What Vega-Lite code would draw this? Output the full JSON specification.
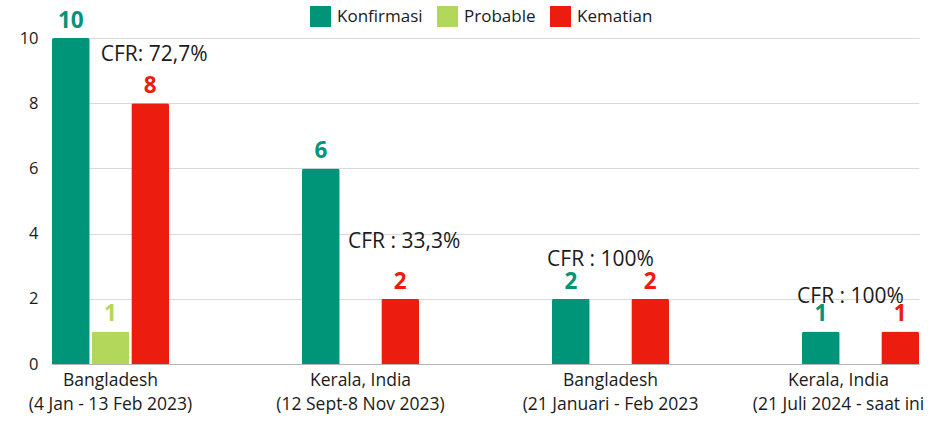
{
  "$schema": "https://vega.github.io/schema/vega-lite/v6.json",
  "width": 867,
  "height": 326,
  "autosize": {"type": "none"},
  "padding": {"left": 52, "top": 38, "right": 23, "bottom": 57},
  "background": "white",
  "config": {"view": {"stroke": null}, "font": "Open Sans"},
  "datasets": {
    "bars": [
      {"Periode": "Bangladesh|(4 Jan - 13 Feb 2023)", "Seri": "Konfirmasi", "Nilai": 10},
      {"Periode": "Bangladesh|(4 Jan - 13 Feb 2023)", "Seri": "Probable", "Nilai": 1},
      {"Periode": "Bangladesh|(4 Jan - 13 Feb 2023)", "Seri": "Kematian", "Nilai": 8},
      {"Periode": "Kerala, India|(12 Sept-8 Nov 2023)", "Seri": "Konfirmasi", "Nilai": 6},
      {"Periode": "Kerala, India|(12 Sept-8 Nov 2023)", "Seri": "Kematian", "Nilai": 2},
      {"Periode": "Bangladesh|(21 Januari - Feb 2023", "Seri": "Konfirmasi", "Nilai": 2},
      {"Periode": "Bangladesh|(21 Januari - Feb 2023", "Seri": "Kematian", "Nilai": 2},
      {"Periode": "Kerala, India|(21 Juli 2024 - saat ini", "Seri": "Konfirmasi", "Nilai": 1},
      {"Periode": "Kerala, India|(21 Juli 2024 - saat ini", "Seri": "Kematian", "Nilai": 1}
    ],
    "cfr": [
      {"Periode": "Bangladesh|(4 Jan - 13 Feb 2023)", "Seri": "Kematian", "Posisi": 9.48, "Teks": "CFR: 72,7%"},
      {"Periode": "Kerala, India|(12 Sept-8 Nov 2023)", "Seri": "Kematian", "Posisi": 3.74, "Teks": "CFR : 33,3%"},
      {"Periode": "Bangladesh|(21 Januari - Feb 2023", "Seri": "Probable", "Posisi": 3.19, "Teks": "CFR : 100%"},
      {"Periode": "Kerala, India|(21 Juli 2024 - saat ini", "Seri": "Probable", "Posisi": 2.05, "Teks": "CFR : 100%"}
    ]
  },
  "encoding": {
    "x": {
      "field": "Periode", "type": "nominal", "sort": null,
      "scale": {"paddingInner": 0.532, "paddingOuter": 0},
      "axis": {
        "title": null, "labelAngle": 0, "labelExpr": "split(datum.label, '|')",
        "labelFontSize": 17.5, "labelColor": "#1a1a1a", "labelPadding": 7,
        "labelLineHeight": 24, "labelLimit": 300, "ticks": false,
        "labelOffset": {"condition": {"test": "indexof(datum.value, 'saat') >= 0", "value": -22}, "value": 0},
        "domainColor": "#b5b5b5", "grid": false
      }
    },
    "xOffset": {
      "field": "Seri", "type": "nominal",
      "scale": {"domain": ["Konfirmasi", "Probable", "Kematian"], "paddingInner": 0.05, "paddingOuter": 0}
    }
  },
  "layer": [
    {
      "data": {"name": "bars"},
      "mark": {"type": "bar", "cornerRadiusTopLeft": 2, "cornerRadiusTopRight": 2},
      "encoding": {
        "y": {
          "field": "Nilai", "type": "quantitative",
          "scale": {"domain": [0, 10], "nice": false},
          "axis": {
            "title": null, "values": [0, 2, 4, 6, 8, 10], "domain": false, "ticks": false,
            "gridColor": "#d9d9d9", "labelFontSize": 16.5, "labelPadding": 14, "labelColor": "#1a1a1a"
          }
        },
        "color": {
          "field": "Seri", "type": "nominal",
          "scale": {"domain": ["Konfirmasi", "Probable", "Kematian"], "range": ["#009579", "#b3d75a", "#ec1c0f"]},
          "legend": {
            "title": null, "orient": "none", "direction": "horizontal",
            "legendX": 258, "legendY": -32, "symbolType": "square", "symbolSize": 441,
            "symbolStrokeWidth": 0, "labelFontSize": 17, "labelColor": "#1a1a1a",
            "labelOffset": 6, "columnPadding": 14
          }
        }
      }
    },
    {
      "data": {"name": "bars"},
      "mark": {"type": "text", "fontSize": 22.5, "fontWeight": "bold", "baseline": "alphabetic", "dy": -10},
      "encoding": {
        "y": {"field": "Nilai", "type": "quantitative"},
        "text": {"field": "Nilai", "type": "quantitative"},
        "color": {"field": "Seri", "type": "nominal"}
      }
    },
    {
      "data": {"name": "cfr"},
      "transform": [{"filter": "datum.Seri == 'Kematian'"}],
      "mark": {"type": "text", "fontSize": 21, "baseline": "middle", "color": "#1a1a1a", "dx": 4},
      "encoding": {
        "y": {"field": "Posisi", "type": "quantitative"},
        "text": {"field": "Teks", "type": "nominal"}
      }
    },
    {
      "data": {"name": "cfr"},
      "transform": [{"filter": "datum.Seri == 'Probable'"}],
      "mark": {"type": "text", "fontSize": 21, "baseline": "middle", "color": "#1a1a1a", "dx": -10},
      "encoding": {
        "y": {"field": "Posisi", "type": "quantitative"},
        "text": {"field": "Teks", "type": "nominal"}
      }
    }
  ]
}
